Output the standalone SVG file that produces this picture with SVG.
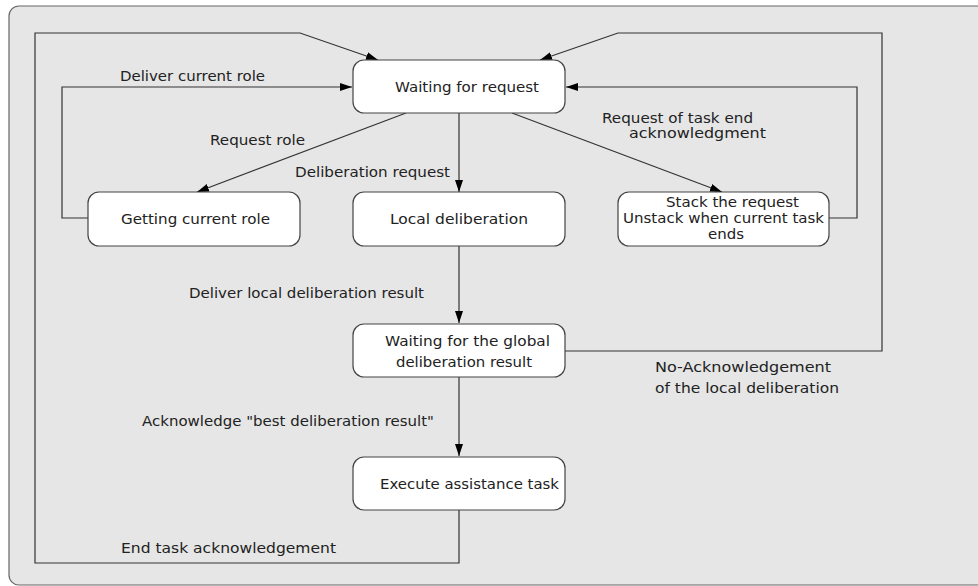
<svg xmlns="http://www.w3.org/2000/svg" width="978" height="586" viewBox="0 0 978 586">
<defs>
<marker id="ah" markerUnits="userSpaceOnUse" markerWidth="13" markerHeight="9" refX="12" refY="4" orient="auto">
<path d="M0,0 L12,4 L0,8 z" fill="#000"/>
</marker>
<style>
.n rect{fill:#fff;stroke:#444;stroke-width:1.2}
text{font-family:"DejaVu Sans","Liberation Sans",sans-serif;font-size:14px;fill:#222}
.c path{fill:none;stroke:#333;stroke-width:1.2}
.a{marker-end:url(#ah)}
</style>
</defs>
<rect x="0" y="0" width="978" height="586" fill="#fff"/>
<rect x="9" y="6" width="1010" height="579" rx="10" fill="#e6e6e6" stroke="#666" stroke-width="1.2"/>
<g id="connectors" class="c">
<path class="a" d="M459,510 L459,563 L35,563 L35,33 L300,33 L378,60"/>
<path class="a" d="M565,351 L882,351 L882,33 L618,33 L540,60"/>
<path class="a" d="M88,218 L62,218 L62,87 L352,87"/>
<path class="a" d="M829,218 L857,218 L857,87 L566,87"/>
<path class="a" d="M406,113 L197,192"/>
<path class="a" d="M459,113 L459,192"/>
<path class="a" d="M512,113 L722,192"/>
<path class="a" d="M459,246 L459,323"/>
<path class="a" d="M459,377 L459,456"/>
</g>
<g id="labels">
<text x="120" y="81" textLength="145" lengthAdjust="spacingAndGlyphs">Deliver current role</text>
<text x="210" y="145" textLength="95" lengthAdjust="spacingAndGlyphs">Request role</text>
<text x="295" y="177" textLength="155" lengthAdjust="spacingAndGlyphs">Deliberation request</text>
<text x="602" y="123" textLength="151" lengthAdjust="spacingAndGlyphs">Request of task end</text>
<text x="629" y="138" textLength="137" lengthAdjust="spacingAndGlyphs">acknowledgment</text>
<text x="189" y="298" textLength="235" lengthAdjust="spacingAndGlyphs">Deliver local deliberation result</text>
<text x="655" y="372" textLength="176" lengthAdjust="spacingAndGlyphs">No-Acknowledgement</text>
<text x="655" y="393" textLength="184" lengthAdjust="spacingAndGlyphs">of the local deliberation</text>
<text x="142" y="426" textLength="292" lengthAdjust="spacingAndGlyphs">Acknowledge "best deliberation result"</text>
<text x="121" y="553" textLength="215" lengthAdjust="spacingAndGlyphs">End task acknowledgement</text>
</g>
<g id="waiting-request" class="n">
<rect x="353" y="60" width="212" height="53" rx="11"/>
<text x="395" y="92" textLength="144" lengthAdjust="spacingAndGlyphs">Waiting for request</text>
</g>
<g id="getting-role" class="n">
<rect x="88" y="192" width="212" height="54" rx="11"/>
<text x="121" y="224" textLength="149" lengthAdjust="spacingAndGlyphs">Getting current role</text>
</g>
<g id="local-deliberation" class="n">
<rect x="353" y="192" width="212" height="54" rx="11"/>
<text x="390" y="224" textLength="138" lengthAdjust="spacingAndGlyphs">Local deliberation</text>
</g>
<g id="stack-request" class="n">
<rect x="618" y="192" width="211" height="54" rx="11"/>
<text x="666" y="207" textLength="133" lengthAdjust="spacingAndGlyphs">Stack the request</text>
<text x="623" y="223" textLength="201" lengthAdjust="spacingAndGlyphs">Unstack when current task</text>
<text x="708" y="239" textLength="36" lengthAdjust="spacingAndGlyphs">ends</text>
</g>
<g id="waiting-global" class="n">
<rect x="353" y="324" width="212" height="53" rx="11"/>
<text x="385" y="346" textLength="165" lengthAdjust="spacingAndGlyphs">Waiting for the global</text>
<text x="396" y="367" textLength="136" lengthAdjust="spacingAndGlyphs">deliberation result</text>
</g>
<g id="execute-task" class="n">
<rect x="353" y="457" width="212" height="53" rx="11"/>
<text x="380" y="489" textLength="179" lengthAdjust="spacingAndGlyphs">Execute assistance task</text>
</g>
</svg>
